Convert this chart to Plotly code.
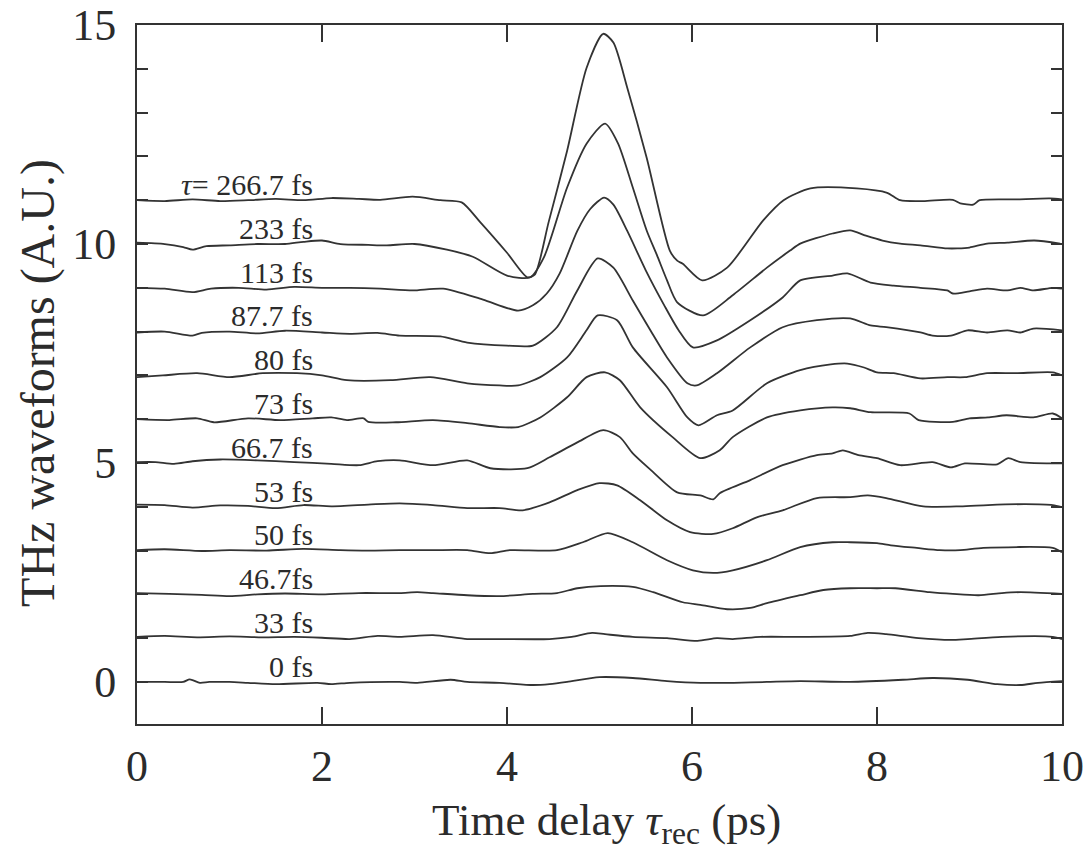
import plotly.graph_objects as go

# ---------------- data ----------------
labels = ["0 fs", "33 fs", "46.7fs", "50 fs", "53 fs", "66.7 fs", "73 fs",
          "80 fs", "87.7 fs", "113 fs", "233 fs", "<i>τ</i>= 266.7 fs"]

t0 = [0, 0.3, 0.5, 0.57, 0.68, 0.78, 1.0, 1.2, 1.5, 1.95, 2.1, 2.3, 2.84, 3.03, 3.39, 3.57, 3.92, 4.28,
      4.46, 4.65, 5.0, 5.36, 5.73, 6.09, 6.45, 6.81, 7.17, 7.71, 8.28, 8.6, 8.98, 9.3, 9.55, 9.74, 10.0]
s0 = [0, 0.0, 0.0, 0.06, -0.02, 0.0, 0.0, -0.02, -0.05, -0.02, -0.05, -0.02, 0.0, -0.02, 0.05, 0.0, -0.02,
      -0.07, -0.05, 0.0, 0.11, 0.09, 0.02, -0.02, -0.02, 0.0, 0.02, 0.0, 0.05, 0.09, 0.05, -0.05, -0.07, -0.02, 0.02]

t1 = [0, 0.3, 0.65, 1.0, 1.35, 1.7, 2.0, 2.3, 2.6, 2.84, 3.2, 3.57, 3.92, 4.46, 4.7, 4.92, 5.06, 5.36, 5.73,
      6.06, 6.27, 6.44, 6.74, 7.17, 7.71, 7.9, 8.1, 8.45, 8.8, 8.98, 9.35, 9.9, 10.0]
s1 = [1.03, 1.05, 1.02, 1.04, 1.02, 1.03, 1.01, 0.98, 1.05, 1.03, 1.07, 0.98, 0.98, 0.98, 1.03, 1.12, 1.09,
      1.03, 1.0, 0.94, 1.0, 0.98, 1.03, 1.03, 1.05, 1.12, 1.09, 1.0, 0.96, 0.98, 1.03, 1.03, 0.98]

t2 = [0, 0.35, 0.7, 1.0, 1.3, 1.6, 2.0, 2.4, 2.84, 3.03, 3.2, 3.57, 3.92, 4.28, 4.54, 4.76, 5.01, 5.36, 5.58,
      5.9, 6.09, 6.38, 6.63, 6.81, 7.17, 7.42, 7.71, 8.0, 8.2, 8.57, 8.82, 9.1, 9.35, 9.55, 10.0]
s2 = [2.03, 2.01, 1.99, 1.96, 2.0, 2.02, 2.0, 2.03, 2.03, 2.05, 2.03, 1.98, 1.96, 2.01, 2.03, 2.14, 2.19, 2.17,
      2.05, 1.82, 1.76, 1.66, 1.69, 1.8, 1.98, 2.1, 2.14, 2.14, 2.14, 2.05, 2.01, 1.98, 2.03, 2.05, 2.01]

t3 = [0, 0.3, 0.7, 1.0, 1.4, 1.8, 2.2, 2.5, 2.84, 3.2, 3.57, 3.82, 4.03, 4.54, 4.82, 5.09, 5.36, 5.73, 6.01,
      6.23, 6.44, 6.81, 7.17, 7.52, 7.71, 8.0, 8.15, 8.43, 8.68, 8.9, 9.15, 9.9, 10.0]
s3 = [3.01, 3.03, 2.99, 3.01, 3.0, 3.04, 3.01, 3.0, 3.01, 3.01, 3.01, 2.94, 3.01, 3.01, 3.19, 3.4, 3.19, 2.78,
      2.55, 2.49, 2.55, 2.78, 3.08, 3.19, 3.19, 3.17, 3.12, 3.06, 3.01, 3.01, 3.06, 3.06, 2.96]

t4 = [0, 0.3, 0.6, 0.9, 1.2, 1.5, 1.8, 2.1, 2.5, 2.84, 3.2, 3.57, 3.92, 4.17, 4.46, 4.76, 5.0, 5.19, 5.44,
      5.73, 5.98, 6.23, 6.44, 6.7, 6.98, 7.35, 7.71, 7.9, 8.1, 8.5, 8.9, 9.2, 9.6, 9.9, 10.0]
s4 = [4.05, 4.04, 3.98, 4.03, 4.02, 3.97, 4.04, 4.01, 4.05, 4.08, 4.04, 3.97, 3.97, 3.92, 4.1, 4.38, 4.54,
      4.49, 4.15, 3.69, 3.42, 3.38, 3.51, 3.76, 3.92, 4.2, 4.22, 4.26, 4.2, 4.01, 4.01, 4.04, 4.06, 4.04, 3.99]

t5 = [0, 0.2, 0.4, 0.6, 0.9, 1.3, 1.7, 2.1, 2.4, 2.6, 2.84, 3.2, 3.57, 3.82, 4.22, 4.46, 4.76, 5.04, 5.22,
      5.36, 5.55, 5.84, 6.09, 6.23, 6.3, 6.63, 6.98, 7.35, 7.52, 7.63, 7.8, 8.0, 8.25, 8.6, 8.8, 8.95, 9.3,
      9.42, 9.55, 10.0]
s5 = [5.02, 5.02, 4.98, 5.04, 5.08, 5.06, 5.02, 4.98, 4.95, 5.04, 5.06, 4.95, 5.06, 4.88, 4.88, 5.13, 5.47,
      5.75, 5.59, 5.22, 4.85, 4.33, 4.26, 4.17, 4.31, 4.61, 4.95, 5.18, 5.22, 5.29, 5.18, 5.11, 4.95, 5.02,
      4.9, 4.99, 4.97, 5.11, 5.02, 4.99]

t6 = [0, 0.35, 0.65, 0.83, 1.2, 1.55, 1.9, 2.1, 2.27, 2.45, 2.5, 2.8, 3.2, 3.57, 3.92, 4.12, 4.36, 4.65, 4.86,
      5.06, 5.22, 5.44, 5.79, 6.09, 6.3, 6.44, 6.81, 7.17, 7.52, 7.71, 7.93, 8.35, 8.45, 8.82, 9.0, 9.2, 9.4,
      9.69, 9.9, 10.0]
s6 = [6.0, 5.98, 6.02, 5.93, 6.02, 5.98, 6.02, 6.04, 5.98, 6.02, 5.94, 5.93, 5.98, 5.91, 5.82, 5.82, 6.04, 6.5,
      6.96, 7.07, 6.89, 6.27, 5.59, 5.11, 5.29, 5.59, 6.04, 6.2, 6.27, 6.25, 6.16, 6.13, 5.98, 5.94, 6.02,
      6.04, 6.09, 6.04, 6.13, 6.02]

t7 = [0, 0.28, 0.65, 1.0, 1.36, 1.73, 2.0, 2.27, 2.74, 3.17, 3.57, 3.92, 4.12, 4.36, 4.65, 4.86, 4.98, 5.19,
      5.36, 5.73, 5.95, 6.07, 6.27, 6.44, 6.81, 7.17, 7.5, 7.68, 7.86, 8.0, 8.18, 8.47, 8.76, 8.95, 9.19, 9.5,
      9.9, 10.0]
s7 = [6.96, 7.0, 7.05, 6.96, 7.05, 7.05, 7.0, 6.89, 6.89, 6.96, 6.82, 6.77, 6.77, 6.96, 7.41, 8.03, 8.37,
      8.26, 7.64, 6.73, 6.04, 5.86, 6.09, 6.2, 6.82, 7.12, 7.25, 7.27, 7.18, 7.07, 7.05, 6.93, 6.96, 6.96,
      7.05, 7.05, 7.07, 7.0]

t8 = [0, 0.3, 0.6, 0.7, 1.0, 1.3, 1.6, 2.0, 2.3, 2.6, 2.84, 3.28, 3.57, 4.0, 4.28, 4.54, 4.76, 4.98, 5.15,
      5.36, 5.55, 5.73, 5.95, 6.05, 6.27, 6.63, 6.98, 7.35, 7.71, 7.93, 8.1, 8.47, 8.6, 8.8, 8.98, 9.19, 9.41,
      9.55, 9.69, 10.0]
s8 = [7.98, 8.0, 7.91, 7.97, 8.0, 7.96, 8.02, 7.98, 7.95, 7.97, 7.91, 7.89, 7.75, 7.68, 7.68, 8.1, 8.94,
      9.67, 9.46, 8.71, 8.03, 7.41, 6.82, 6.77, 7.05, 7.64, 8.1, 8.26, 8.3, 8.14, 8.1, 7.98, 7.91, 7.91, 8.03,
      7.98, 8.03, 7.98, 8.07, 8.03]

t9 = [0, 0.3, 0.6, 0.8, 1.1, 1.4, 1.7, 2.0, 2.3, 2.63, 2.98, 3.31, 3.74, 4.12, 4.28, 4.43, 4.57, 4.76, 4.9,
      5.05, 5.15, 5.3, 5.5, 5.7, 5.85, 6.01, 6.27, 6.63, 6.98, 7.17, 7.52, 7.68, 7.93, 8.18, 8.47, 8.76, 8.82,
      9.0, 9.19, 9.41, 9.55, 9.69, 9.9, 10.0]
s9 = [9.0, 8.98, 8.9, 8.98, 9.0, 8.96, 9.02, 9.0, 9.0, 8.98, 8.94, 8.98, 8.73, 8.48, 8.6, 8.87, 9.33, 10.3,
      10.8, 11.06, 10.9, 10.3, 9.4, 8.6, 8.05, 7.64, 7.8, 8.26, 8.78, 9.17, 9.28, 9.33, 9.12, 9.05, 9.0, 8.94,
      8.87, 8.92, 8.98, 8.94, 9.0, 8.94, 9.0, 8.98]

t10 = [0, 0.3, 0.5, 0.6, 0.75, 1.0, 1.3, 1.6, 1.8, 2.0, 2.2, 2.5, 2.7, 3.0, 3.35, 3.63, 4.0, 4.25, 4.4,
       4.65, 4.86, 5.06, 5.2, 5.36, 5.51, 5.62, 5.73, 5.84, 6.12, 6.44, 6.81, 7.06, 7.17, 7.52, 7.71, 7.88,
       8.06, 8.25, 8.47, 8.76, 8.87, 9.0, 9.19, 9.41, 9.7, 9.98]
s10 = [10.03, 10.0, 9.93, 9.87, 9.95, 9.97, 10.0, 10.0, 10.05, 10.08, 10.0, 9.98, 9.97, 10.0, 9.87, 9.71,
       9.28, 9.24, 9.7, 11.29, 12.29, 12.75, 12.3, 11.29, 10.31, 9.75, 9.17, 8.67, 8.37, 8.83, 9.46, 9.85,
       10.01, 10.24, 10.31, 10.19, 10.08, 10.01, 9.97, 9.9, 9.9, 9.92, 10.01, 10.03, 10.08, 10.01]

t11 = [0, 0.3, 0.6, 0.9, 1.2, 1.5, 1.8, 2.1, 2.4, 2.63, 2.98, 3.28, 3.51, 3.71, 4.0, 4.22, 4.3, 4.45, 4.65,
       4.86, 5.04, 5.15, 5.3, 5.51, 5.76, 5.84, 5.9, 6.11, 6.38, 6.77, 6.99, 7.28, 7.78, 8.11, 8.25, 8.5,
       8.82, 8.9, 9.04, 9.11, 9.5, 9.87, 10.0]
s11 = [11.0, 10.98, 11.02, 10.98, 11.0, 11.03, 11.0, 11.05, 11.03, 11.01, 11.08, 11.0, 10.95, 10.5, 9.8,
       9.24, 9.3, 10.5, 12.13, 14.02, 14.8, 14.6, 13.57, 11.97, 9.85, 9.62, 9.55, 9.17, 9.46, 10.54, 11.0,
       11.27, 11.27, 11.17, 11.0, 10.98, 11.01, 10.93, 10.9, 11.0, 11.02, 11.04, 11.02]

offsets = list(range(12))
times = [t0, t1, t2, t3, t4, t5, t6, t7, t8, t9, t10, t11]
signals = [s0, s1, s2, s3, s4, s5, s6, s7, s8, s9, s10, s11]

x_ticks = [0, 2, 4, 6, 8, 10]

# ---------------- figure ----------------
FONT = "Liberation Serif"
INK = "#2b2b2b"

fig = go.Figure()
for t, s in zip(times, signals):
    fig.add_trace(go.Scatter(x=t, y=s, mode="lines",
                             line=dict(color="#333333", width=1.8, shape="spline", smoothing=0.7),
                             showlegend=False, hoverinfo="skip"))

label_x = 1.92
for k, lab in zip(offsets, labels):
    fig.add_annotation(x=label_x, y=k + 0.36, xref="x", yref="y", text=lab,
                       showarrow=False, xanchor="right", yanchor="middle",
                       font=dict(family=FONT, size=30, color=INK))

fig.add_annotation(xref="paper", yref="paper", x=0.508, y=-0.142,
                   text="Time delay <i>τ</i><sub>rec</sub> (ps)", showarrow=False,
                   xanchor="center", yanchor="middle",
                   font=dict(family=FONT, size=45, color=INK))
fig.add_annotation(xref="paper", yref="paper", x=-0.107, y=0.488,
                   text="THz waveforms (A.U.)", showarrow=False, textangle=-90,
                   xanchor="center", yanchor="middle",
                   font=dict(family=FONT, size=48, color=INK))

fig.update_layout(width=1090, height=853,
                  margin=dict(l=137, r=28, t=25, b=129, autoexpand=False),
                  paper_bgcolor="white", plot_bgcolor="white",
                  font=dict(family=FONT, color=INK))

fig.update_xaxes(range=[0, 10], tickmode="array", tickvals=x_ticks,
                 ticks="inside", ticklen=17, tickwidth=1.6, tickcolor="#333333",
                 showline=True, linecolor="#333333", linewidth=1.8, mirror="ticks",
                 showgrid=False, zeroline=False, automargin=False,
                 tickfont=dict(family=FONT, size=44, color=INK),
                 ticklabelstandoff=2)
fig.update_yaxes(range=[-0.96, 15.001], tick0=0, dtick=5,
                 ticks="inside", ticklen=11, tickwidth=1.6, tickcolor="#333333",
                 minor=dict(tick0=0, dtick=1, ticks="inside", ticklen=11,
                            tickwidth=1.6, tickcolor="#333333"),
                 showline=True, linecolor="#333333", linewidth=1.8, mirror="ticks",
                 showgrid=False, zeroline=False, automargin=False,
                 tickfont=dict(family=FONT, size=44, color=INK),
                 ticklabelstandoff=10)

fig.write_html("out.html")
